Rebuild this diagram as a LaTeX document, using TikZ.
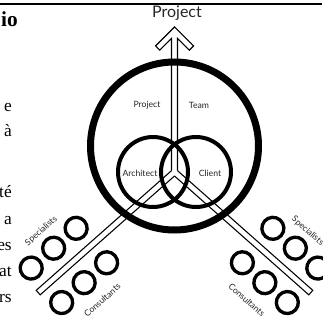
\documentclass[tikz,border=0pt]{standalone}
\usepackage{fontspec}
\setmainfont{Liberation Serif}
\newfontfamily\gill{Lato}

\begin{document}
\begin{tikzpicture}[x=0.75pt, y=0.75pt,
	lbl/.style={font=\gill\fontsize{6.5}{7}\selectfont, text=black!85, inner sep=0pt},
	ring/.style={line width=2.5pt},
	rod/.style={line width=0.8pt}]
	\useasboundingbox (-174.5,-152) rectangle (147.5,172);

	% rule and the ends of the text lines on the left
	\draw [line width=1.5pt] (-174.5,168) -- (147.5,168);
	\node [font=\bfseries\fontsize{16}{18}\selectfont, anchor=base east, inner sep=0pt] (head) at (-156.5,145) {io};
	\foreach \y/\txt/\nm in {60/e/la, 35/à/lb, -26/té/lc, -52/a/ld, -78/es/le, -104/at/lf, -130/rs/lg}
	{
		\node [font=\fontsize{13}{15}\selectfont, anchor=base east, inner sep=0pt] (\nm) at (-162.5,\y) {\txt};
	}

	% team circle and the two partners
	\draw [line width=5.25pt] (0,26) circle (84);
	\draw [line width=3pt] (-21.5,0) circle (35);
	\draw [line width=3pt] (21.5,0) circle (35);

	% shaft up to the project
	\draw [rod] (-3,1.35) -- (-3,133.5) -- (-14.76,121.76) -- (-19,126) -- (0,145)
		-- (19,126) -- (14.76,121.76) -- (3,133.5) -- (3,1.35);

	% the two legs with their groups
	\foreach \ang/\s/\rot/\side in {221.5/-1/41.5/left, 318.5/1/-41.5/right}
	{
		\begin{scope}[rotate=\ang]
			\draw [rod] (1.35,3*\s) -- (182,3*\s) -- (182,-3*\s) -- (2.65,-3*\s);
			\foreach \x in {111,141,171}
			{
				\draw [ring] (\x,23*\s) circle (11);
				\draw [ring] (\x,-23*\s) circle (11);
			}
			\node [lbl, rotate=\rot] (spec-\side) at (139,44*\s) {Specialists};
			\node [lbl, rotate=\rot] (cons-\side) at (139,-48*\s) {Consultants};
		\end{scope}
	}

	\node [font=\gill\fontsize{12}{14}\selectfont, text=black!85, inner sep=0pt] (goal) at (2.5,159) {Project};
	\node [lbl] (proj) at (-27.5,67) {Project};
	\node [lbl] (team) at (24.5,67) {Team};
	\node [lbl] (arch) at (-34.5,-1) {Architect};
	\node [lbl] (client) at (35.5,-1) {Client};
\end{tikzpicture}
\end{document}
